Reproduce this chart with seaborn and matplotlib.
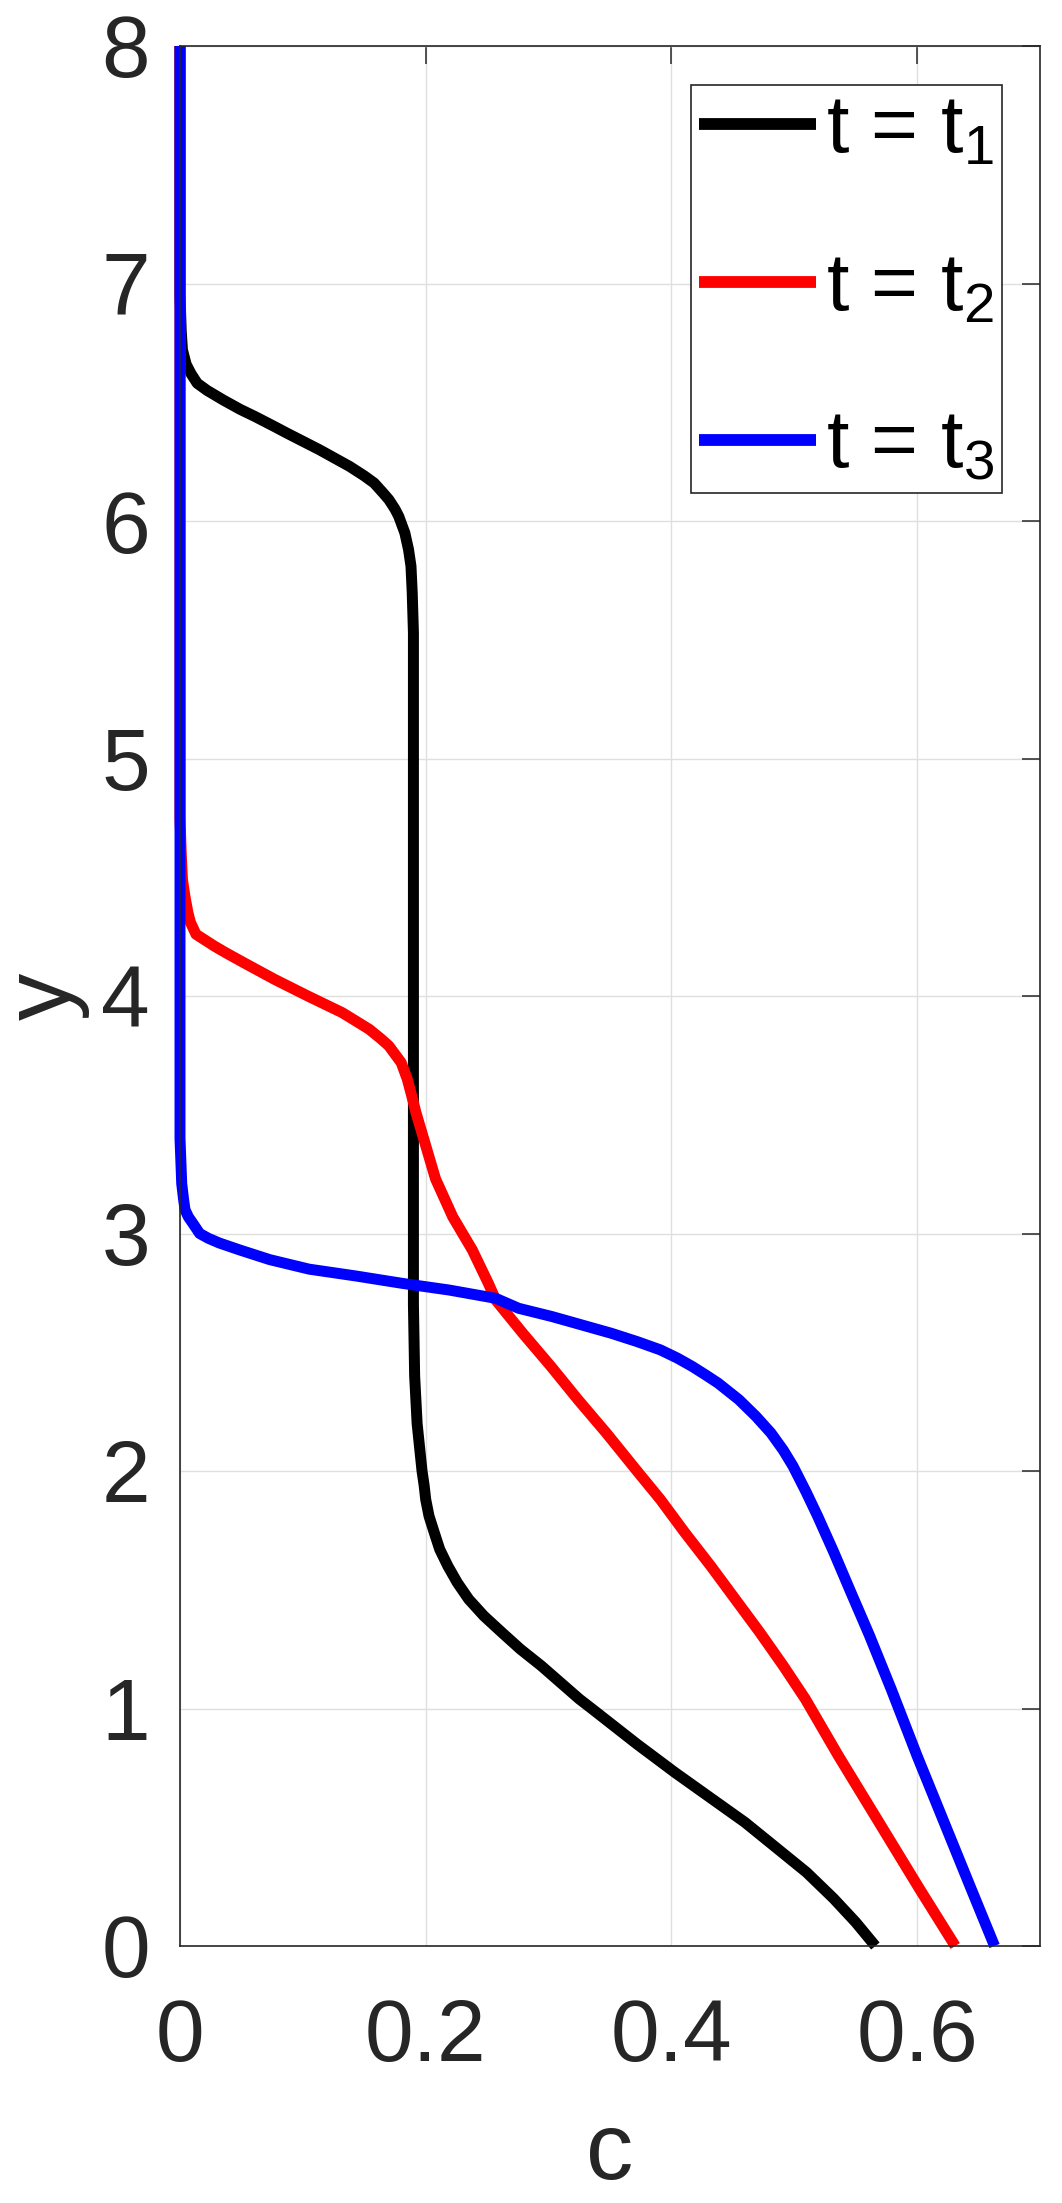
import numpy as np
import pandas as pd
import matplotlib
matplotlib.use("Agg")
import matplotlib.pyplot as plt
import seaborn as sns

# ---------------- data ----------------
labels = ["t = t$_1$", "t = t$_2$", "t = t$_3$"]
colors = ["#000000", "#ff0000", "#0000ff"]

y_t1 = [8.0, 6.95, 6.80, 6.72, 6.66, 6.62, 6.58, 6.55, 6.51, 6.47, 6.44, 6.40, 6.37,
        6.30, 6.23, 6.19, 6.16, 6.12, 6.09, 6.05, 6.02, 5.95, 5.88, 5.81, 5.70, 5.53,
        4.0, 2.7, 2.4, 2.2, 2.1, 2.0, 1.94, 1.88, 1.81, 1.74, 1.67, 1.60, 1.53, 1.46,
        1.39, 1.32, 1.25, 1.18, 1.11, 1.04, 1.00, 0.85, 0.73, 0.52, 0.31, 0.20, 0.10,
        0.0]
c_t1 = [0.0, 0.0, 0.001, 0.002, 0.005, 0.009, 0.014, 0.022, 0.035, 0.049, 0.061,
        0.076, 0.087, 0.1135, 0.138, 0.150, 0.158, 0.165, 0.170, 0.175, 0.178, 0.183,
        0.186, 0.188, 0.189, 0.190, 0.190, 0.190, 0.191, 0.193, 0.195, 0.197, 0.1987,
        0.200, 0.2027, 0.207, 0.2114, 0.218, 0.2257, 0.235, 0.2473, 0.262, 0.277,
        0.294, 0.3095, 0.325, 0.335, 0.372, 0.403, 0.460, 0.510, 0.532, 0.550, 0.566]

y_t2 = [8.0, 4.75, 4.6, 4.49, 4.42, 4.35, 4.31, 4.26, 4.24, 4.21, 4.18, 4.14, 4.07,
        4.00, 3.93, 3.89, 3.86, 3.82, 3.79, 3.75, 3.72, 3.65, 3.58, 3.51, 3.44, 3.37,
        3.23, 3.07, 2.93, 2.79, 2.72, 2.58, 2.44, 2.30, 2.16, 2.00, 1.88, 1.74, 1.60,
        1.46, 1.32, 1.18, 1.04, 0.80, 0.52, 0.24, 0.0]
c_t2 = [0.0, 0.0, 0.001, 0.002, 0.004, 0.0065, 0.0085, 0.013, 0.019, 0.028, 0.038,
        0.052, 0.077, 0.104, 0.132, 0.1446, 0.154, 0.1635, 0.170, 0.1757, 0.180,
        0.185, 0.1886, 0.192, 0.196, 0.200, 0.208, 0.222, 0.238, 0.251, 0.257, 0.279,
        0.302, 0.324, 0.347, 0.372, 0.391, 0.411, 0.432, 0.452, 0.472, 0.491, 0.509,
        0.536, 0.569, 0.602, 0.631]

y_t3 = [8.0, 3.40, 3.21, 3.14, 3.10, 3.07, 3.04, 3.00, 2.98, 2.96, 2.93, 2.91, 2.89,
        2.87, 2.85, 2.821, 2.790, 2.762, 2.727, 2.685, 2.650, 2.615, 2.58, 2.545,
        2.51, 2.475, 2.44, 2.404, 2.37, 2.30, 2.229, 2.16, 2.088, 2.02, 1.913, 1.81,
        1.66, 1.49, 1.31, 1.08, 0.80, 0.52, 0.24, 0.0]
c_t3 = [0.0, 0.0, 0.0014, 0.003, 0.0041, 0.0068, 0.0108, 0.016, 0.023, 0.032,
        0.049, 0.061, 0.073, 0.089, 0.105, 0.1433, 0.181, 0.219, 0.257, 0.2757,
        0.303, 0.327, 0.351, 0.372, 0.391, 0.405, 0.417, 0.428, 0.438, 0.455, 0.469,
        0.481, 0.491, 0.499, 0.5095, 0.519, 0.532, 0.546, 0.561, 0.579, 0.600, 0.622,
        0.644, 0.663]

x_ticks = [0, 0.2, 0.4, 0.6]
x_tick_labels = ["0", "0.2", "0.4", "0.6"]
y_ticks = [0, 1, 2, 3, 4, 5, 6, 7, 8]
y_tick_labels = ["0", "1", "2", "3", "4", "5", "6", "7", "8"]

# ---------------- style ----------------
sns.set_style("white")
plt.rcParams["font.family"] = ["Liberation Sans", "DejaVu Sans"]
plt.rcParams["mathtext.fontset"] = "custom"
plt.rcParams["mathtext.rm"] = "Liberation Sans"
plt.rcParams["mathtext.it"] = "Liberation Sans:italic"
plt.rcParams["mathtext.bf"] = "Liberation Sans:bold"

W, H, DPI = 1062, 2203, 100
PT = 72.0 / DPI  # points per pixel

frames = []
for lab, yy, cc in zip(labels, [y_t1, y_t2, y_t3], [c_t1, c_t2, c_t3]):
    frames.append(pd.DataFrame({"y": yy, "c": cc, "series": lab}))
df = pd.concat(frames, ignore_index=True)

fig = plt.figure(figsize=(W / DPI, H / DPI), dpi=DPI)
ax = fig.add_axes([180 / W, 1 - 1946 / H, 860 / W, 1900 / H])

sns.lineplot(data=df, x="c", y="y", hue="series", hue_order=labels,
             palette=dict(zip(labels, colors)), orient="y", sort=True,
             estimator=None, linewidth=7.9, ax=ax)

for ln in ax.lines:
    ln.set_clip_on(False)
    ln.set_solid_capstyle("butt")
    ln.set_solid_joinstyle("round")

ax.set_xlim(0, 0.7)
ax.set_ylim(0, 8)
ax.set_xticks(x_ticks)
ax.set_xticklabels(x_tick_labels)
ax.set_yticks(y_ticks)
ax.set_yticklabels(y_tick_labels)

dark = "#262626"
ax.grid(True, color="#dfdfdf", linewidth=1.0)
ax.set_axisbelow(True)
for sp in ax.spines.values():
    sp.set_visible(True)
    sp.set_color(dark)
    sp.set_linewidth(1.2)

xpad, ypad = 37.0, 21.5
ax.tick_params(axis="both", direction="in", length=13, width=1.1, color=dark,
               labelcolor=dark, labelsize=63, top=True, right=True)
ax.tick_params(axis="x", pad=xpad)
ax.tick_params(axis="y", pad=ypad)

xlp, ylp = 25.0, 8.0
ax.set_xlabel("c", fontsize=68, color=dark, labelpad=xlp)
ax.set_ylabel("y", fontsize=68, color=dark, labelpad=ylp)

handles, labs = ax.get_legend_handles_labels()
if ax.get_legend() is not None:
    ax.get_legend().remove()

LEG_FS = 58.0


def make_legend(spacing):
    lg = ax.legend(handles, labs, loc="upper right",
                   bbox_to_anchor=((1002 - 180) / 860, (1946 - 85) / 1900),
                   borderaxespad=0, fontsize=LEG_FS, frameon=True, fancybox=False,
                   framealpha=1, edgecolor=dark, handlelength=1.45,
                   handletextpad=0.12, labelspacing=spacing, borderpad=0.1)
    lg.get_frame().set_linewidth(1.2)
    for h in lg.get_lines():
        h.set_linewidth(8.5)
        h.set_solid_capstyle("butt")
    for t in lg.get_texts():
        t.set_color("black")
    return lg


spacing = 0.85
leg = make_legend(spacing)

# ---- calibrate text placement against the reference layout ----
fig.canvas.draw()
r = fig.canvas.get_renderer()
bb = ax.get_xticklabels()[1].get_window_extent(r)
xpad += ((H - 1997) - bb.y1) * PT
bb = ax.get_yticklabels()[4].get_window_extent(r)
ypad += (bb.x1 - 150) * PT
ax.tick_params(axis="x", pad=xpad)
ax.tick_params(axis="y", pad=ypad)
lb = leg.get_window_extent(r)
fs_px = LEG_FS / PT
spacing += (408 - lb.height) / (2 * fs_px)
leg.remove()
leg = make_legend(spacing)

fig.canvas.draw()
r = fig.canvas.get_renderer()
bb = ax.xaxis.label.get_window_extent(r)
xlp += (bb.y0 - (H - 2199)) * PT
bb = ax.yaxis.label.get_window_extent(r)
ylp += (bb.x1 - 90) * PT
ax.xaxis.labelpad = xlp
ax.yaxis.labelpad = ylp

fig.savefig("out.png", dpi=DPI)
